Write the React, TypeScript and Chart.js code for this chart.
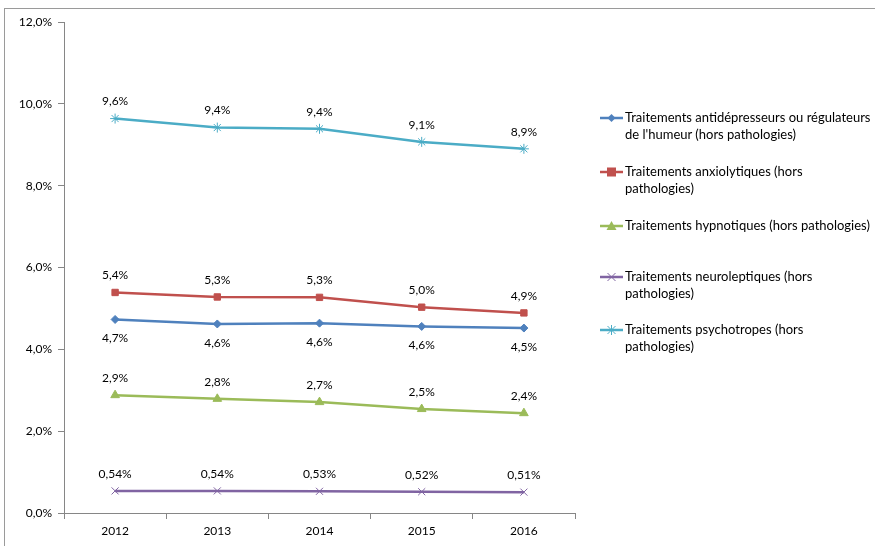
import React, { useEffect, useRef } from "react";
import { Chart, registerables } from "chart.js";
Chart.register(...registerables);

const years = ["2012", "2013", "2014", "2015", "2016"];
const antidepresseurs = [4.73, 4.62, 4.64, 4.56, 4.52];
const anxiolytiques = [5.39, 5.28, 5.27, 5.03, 4.89];
const hypnotiques = [2.88, 2.79, 2.71, 2.54, 2.44];
const neuroleptiques = [0.54, 0.54, 0.53, 0.52, 0.51];
const psychotropes = [9.64, 9.42, 9.39, 9.07, 8.9];

const seriesNames = [
  ["Traitements antidépresseurs ou régulateurs", "de l'humeur (hors pathologies)"],
  ["Traitements anxiolytiques (hors", "pathologies)"],
  ["Traitements hypnotiques (hors pathologies)"],
  ["Traitements neuroleptiques (hors", "pathologies)"],
  ["Traitements psychotropes (hors", "pathologies)"],
];
const seriesValues = [antidepresseurs, anxiolytiques, hypnotiques, neuroleptiques, psychotropes];
const seriesColors = ["#4F81BD", "#C0504D", "#9BBB59", "#8064A2", "#4BACC6"];
const seriesMarkers = ["rectRot", "rect", "triangle", "crossRot", "star"];
const seriesDecimals = [1, 1, 1, 2, 1];
const seriesLabelBelow = [true, false, false, false, false];
const markerRadius = [4, 4.5, 5, 5, 5];

const yMin = 0;
const yMax = 12;
const yStep = 2;

const FONT = "Lato, 'Liberation Sans', sans-serif";
const fmt = (v: number, d: number) => v.toFixed(d).replace(".", ",") + "%";

const legendTops = [109, 163, 217, 268, 321];

const dataLabelPlugin = {
  id: "dataLabels",
  afterDatasetsDraw(chart: any) {
    const ctx = chart.ctx;
    ctx.save();
    ctx.font = `12px ${FONT}`;
    ctx.fillStyle = "#000";
    ctx.textAlign = "center";
    ctx.textBaseline = "middle";
    chart.data.datasets.forEach((ds: any, i: number) => {
      const meta = chart.getDatasetMeta(i);
      meta.data.forEach((pt: any, j: number) => {
        const txt = fmt(ds.data[j], seriesDecimals[i]);
        const y = seriesLabelBelow[i] ? pt.y + 19 : pt.y - 17;
        ctx.fillText(txt, pt.x, y);
      });
    });
    ctx.restore();
  },
};

function LegendMarker({ idx }: { idx: number }) {
  const c = seriesColors[idx];
  const cx = 11.5, cy = 6;
  let shape: any = null;
  if (idx === 0) shape = <polygon points={`${cx},${cy - 4} ${cx + 4},${cy} ${cx},${cy + 4} ${cx - 4},${cy}`} fill={c} />;
  if (idx === 1) shape = <rect x={cx - 4.5} y={cy - 4.5} width={9} height={9} fill={c} />;
  if (idx === 2) shape = <polygon points={`${cx},${cy - 5} ${cx + 5},${cy + 4} ${cx - 5},${cy + 4}`} fill={c} />;
  if (idx === 3)
    shape = (
      <g stroke={c} strokeWidth={1}>
        <line x1={cx - 4} y1={cy - 4} x2={cx + 4} y2={cy + 4} />
        <line x1={cx - 4} y1={cy + 4} x2={cx + 4} y2={cy - 4} />
      </g>
    );
  if (idx === 4)
    shape = (
      <g stroke={c} strokeWidth={1}>
        <line x1={cx - 4} y1={cy - 4} x2={cx + 4} y2={cy + 4} />
        <line x1={cx - 4} y1={cy + 4} x2={cx + 4} y2={cy - 4} />
        <line x1={cx} y1={cy - 5} x2={cx} y2={cy + 5} />
      </g>
    );
  return (
    <svg width={24} height={12} style={{ position: "absolute", left: 600, top: 0 }}>
      <line x1={0} y1={cy} x2={23} y2={cy} stroke={c} strokeWidth={2.5} />
      {shape}
    </svg>
  );
}

export default function App() {
  const ref = useRef<HTMLCanvasElement | null>(null);
  useEffect(() => {
    if (!ref.current) return;
    const chart = new Chart(ref.current, {
      type: "line",
      data: {
        labels: years,
        datasets: seriesValues.map((vals, i) => ({
          label: seriesNames[i].join(" "),
          data: vals,
          borderColor: seriesColors[i],
          backgroundColor: seriesColors[i],
          borderWidth: 2.5,
          pointStyle: seriesMarkers[i] as any,
          pointRadius: markerRadius[i],
          pointBorderWidth: i >= 3 ? 1 : 1,
          pointBorderColor: seriesColors[i],
          pointBackgroundColor: seriesColors[i],
          tension: 0,
          fill: false,
        })),
      },
      options: {
        responsive: false,
        animation: false,
        events: [],
        layout: { padding: { top: 22, left: 0, right: 300, bottom: 0 } },
        plugins: { legend: { display: false }, tooltip: { enabled: false } },
        scales: {
          x: {
            type: "category",
            offset: true,
            grid: { display: true, offset: true, drawOnChartArea: false, drawTicks: true, tickLength: 6, color: "#868686" },
            border: { display: true, color: "#868686", width: 1 },
            ticks: { color: "#000", font: { family: FONT, size: 12 }, padding: 5, maxRotation: 0 },
            afterFit: (s: any) => {
              s.height = 33;
            },
          },
          y: {
            min: yMin,
            max: yMax,
            grid: { display: true, drawOnChartArea: false, drawTicks: true, tickLength: 6, color: "#868686" },
            border: { display: true, color: "#868686", width: 1 },
            ticks: {
              stepSize: yStep,
              color: "#000",
              font: { family: FONT, size: 12 },
              padding: 6,
              callback: (v: any) => fmt(Number(v), 1),
            },
            afterFit: (s: any) => {
              s.width = 64;
            },
          },
        },
      },
      plugins: [dataLabelPlugin],
    });
    return () => chart.destroy();
  }, []);

  return (
    <div style={{ position: "fixed", left: 0, top: 0, width: 875, height: 546, overflow: "hidden", background: "#fff" }}>
      <div
        style={{
          position: "absolute",
          left: 4,
          top: 8,
          width: 920,
          height: 600,
          border: "1px solid #9a9a9a",
          boxSizing: "border-box",
        }}
      />
      <canvas ref={ref} width={875} height={546} style={{ position: "absolute", left: 0, top: 0 }} />
      {seriesNames.map((lines, i) => (
        <div key={i} style={{ position: "absolute", left: 0, top: legendTops[i], width: 875 }}>
          <div style={{ position: "absolute", left: 0, top: 3 }}>
            <LegendMarker idx={i} />
          </div>
          <div
            style={{
              position: "absolute",
              left: 625,
              top: 0,
              fontFamily: FONT,
              fontSize: 13,
              lineHeight: "17px",
              color: "#000",
              whiteSpace: "nowrap",
            }}
          >
            {lines.map((l, k) => (
              <div key={k}>{l}</div>
            ))}
          </div>
        </div>
      ))}
    </div>
  );
}
